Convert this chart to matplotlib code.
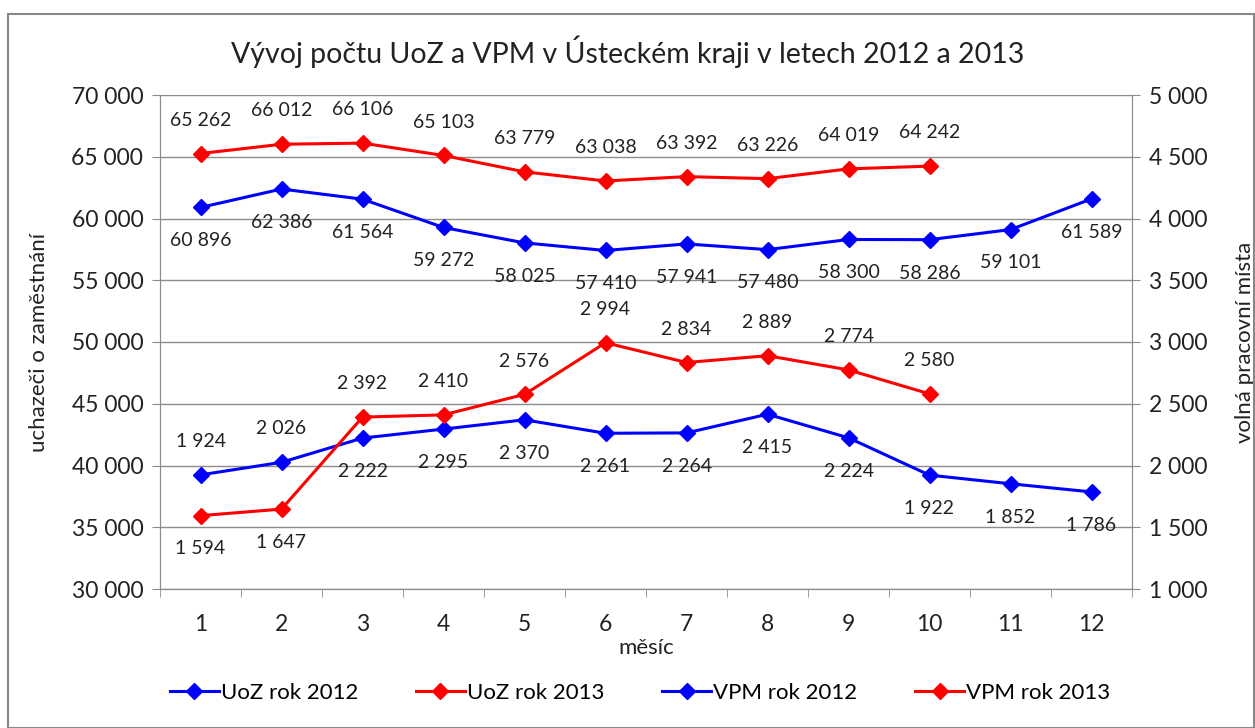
import matplotlib
matplotlib.use("Agg")
import matplotlib.pyplot as plt
from matplotlib.ticker import FuncFormatter, MultipleLocator, FixedLocator

plt.rcParams['font.family'] = ['Lato', 'DejaVu Sans']

# =========================
# Data
# =========================
months = list(range(1, 13))
uoz_2012 = [60896, 62386, 61564, 59272, 58025, 57410, 57941, 57480, 58300, 58286, 59101, 61589]
uoz_2013 = [65262, 66012, 66106, 65103, 63779, 63038, 63392, 63226, 64019, 64242]
vpm_2012 = [1924, 2026, 2222, 2295, 2370, 2261, 2264, 2415, 2224, 1922, 1852, 1786]
vpm_2013 = [1594, 1647, 2392, 2410, 2576, 2994, 2834, 2889, 2774, 2580]

# label placement: +1 above, -1 below
vpm_2012_pos = [1, 1, -1, -1, -1, -1, -1, -1, -1, -1, -1, -1]
vpm_2013_pos = [-1, -1, 1, 1, 1, 1, 1, 1, 1, 1]

BLUE = "#0000ff"
RED = "#ff0000"
GRID = "#8c8c8c"
TXT = "#222222"


def fmt(v, pos=None):
    return f"{int(v):,}".replace(",", " ")


def label_points(ax, xs, ys, sides):
    for x, y, s in zip(xs, ys, sides):
        ax.annotate(fmt(y), (x, y), xytext=(0, 24 * s), textcoords="offset points",
                    ha="center", va="center", fontsize=14, color=TXT)


fig = plt.figure(figsize=(12.55, 7.28), dpi=100)
ax = fig.add_axes([160 / 1255, 1 - 589 / 728, (1132 - 160) / 1255, (589 - 95) / 728])
ax2 = ax.twinx()

kw = dict(lw=2.2, marker="D", ms=8)
l1, = ax.plot(months, uoz_2012, color=BLUE, label="UoZ rok 2012", **kw)
l2, = ax.plot(months[:len(uoz_2013)], uoz_2013, color=RED, label="UoZ rok 2013", **kw)
l3, = ax2.plot(months, vpm_2012, color=BLUE, label="VPM rok 2012", **kw)
l4, = ax2.plot(months[:len(vpm_2013)], vpm_2013, color=RED, label="VPM rok 2013", **kw)

label_points(ax, months, uoz_2012, [-1] * 12)
label_points(ax, months[:len(uoz_2013)], uoz_2013, [1] * 10)
label_points(ax2, months, vpm_2012, vpm_2012_pos)
label_points(ax2, months[:len(vpm_2013)], vpm_2013, vpm_2013_pos)

ax.set_xlim(0.5, 12.5)
ax.set_ylim(30000, 70000)
ax2.set_ylim(1000, 5000)
ax.yaxis.set_major_locator(MultipleLocator(5000))
ax2.yaxis.set_major_locator(MultipleLocator(500))
ax.yaxis.set_major_formatter(FuncFormatter(fmt))
ax2.yaxis.set_major_formatter(FuncFormatter(fmt))

ax.set_xticks(months)
ax.xaxis.set_minor_locator(FixedLocator([m + 0.5 for m in range(0, 13)]))
ax.tick_params(axis="x", which="major", length=0, pad=18, labelsize=16.5, colors=TXT)
ax.tick_params(axis="x", which="minor", length=6, color=GRID)
ax.tick_params(axis="y", length=6, color=GRID, labelsize=16.5, labelcolor=TXT, pad=6)
ax2.tick_params(axis="y", length=6, color=GRID, labelsize=16.5, labelcolor=TXT, pad=6)

ax.grid(axis="y", color=GRID, lw=1)
ax.set_axisbelow(True)
for a in (ax, ax2):
    a.spines["top"].set_visible(False)
    for sp in ("left", "right", "bottom"):
        a.spines[sp].set_color(GRID)

ax.set_ylabel("uchazeči o zaměstnání", fontsize=16, color=TXT, labelpad=16)
ax2.set_ylabel("volná pracovní místa", fontsize=16, color=TXT, labelpad=20)
ax.set_xlabel("měsíc", fontsize=16, color=TXT, labelpad=2)

fig.text(0.5, 1 - 52 / 728, "Vývoj počtu UoZ a VPM v Ústeckém kraji v letech 2012 a 2013",
         ha="center", va="center", fontsize=20.5, color=TXT)

fig.legend(handles=[l1, l2, l3, l4], loc="center", bbox_to_anchor=(0.51, 1 - 693 / 728),
           ncol=4, frameon=False, fontsize=16, handlelength=2.2, columnspacing=2.6,
           handletextpad=0.1)

# outer chart border
fig.patches.append(plt.Rectangle((8 / 1255, 0), 1 - 8 / 1255 - 1 / 1255, 1 - 14 / 728,
                                 transform=fig.transFigure, fill=False,
                                 edgecolor="#888888", lw=1.5))

fig.savefig("out.png", dpi=100)
